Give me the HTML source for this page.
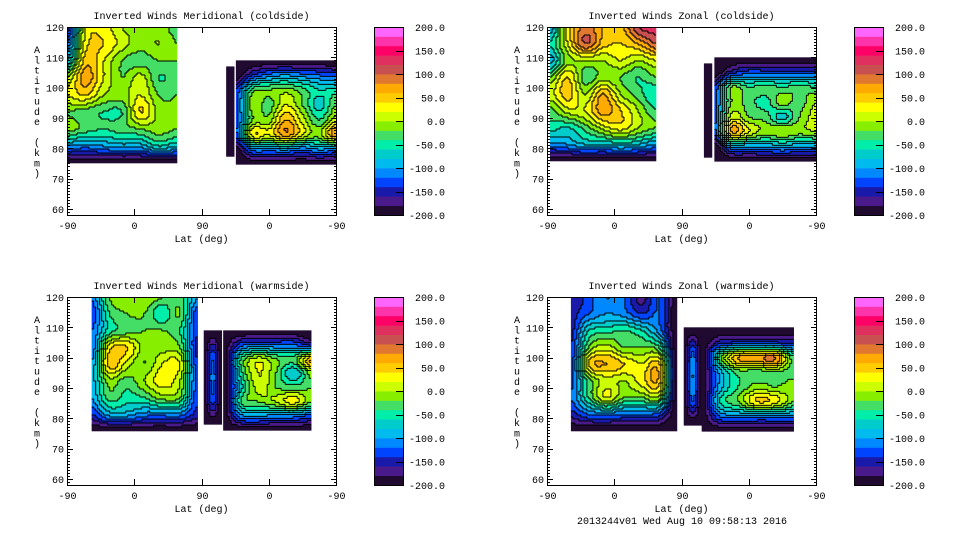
<!DOCTYPE html>
<html><head><meta charset="utf-8"><style>
body{margin:0;background:#fff}
svg{display:block}
text{font-family:"Liberation Mono",monospace;font-size:10px;fill:#000}
</style></head><body>
<svg id="s" width="960" height="540" viewBox="0 0 960 540"></svg>
<script>
const bandColors=["#200a30","#4a1a8a","#1a1aaa","#0044ff","#0088ff","#00bbee","#00cccc","#00eeaa","#44dd66","#88ee00","#ccff00","#ffff00","#ffcc00","#ffaa00","#e07830","#c85050","#e03060","#ff0066","#ff33aa","#ff66ff"];
const cbTicks=[200,150,100,50,0,-50,-100,-150,-200];
const altTicks=[60,70,80,90,100,110,120];
const latTickLabels=["-90","0","90","0","-90"];
const tlA=[[-150,20,30,0,-10,-10,-30],[-120,30,40,10,-10,0,-20],[-80,50,20,-20,-30,-20,-20],[0,70,20,-20,10,-40,-30],[20,40,0,-10,20,-20,-20],[-20,-30,-40,-40,40,-10,-20],[-10,-30,-40,-30,-20,-10,-20],[-100,-110,-100,-90,-90,-60,-80],[-200,-200,-200,-200,-200,-200,-200]];
const tlE=[[-200,-200,-200],[-200,-195,-200],[-200,-190,-200],[-200,-195,-200],[-200,-200,-200]];
const tlB=[[-200,-200,-200,-200,-200,-200,-200],[-200,-140,-110,-100,-110,-120,-130],[-140,-30,-20,-10,-30,-60,-50],[-130,-10,-30,20,-20,-70,-20],[-130,-20,-10,60,10,-40,10],[-130,30,20,70,20,-10,80],[-200,-110,-110,-100,-120,-100,-110],[-200,-200,-200,-200,-200,-200,-200]];
const trA=[[-100,30,90,60,50,120,130],[-60,20,100,50,40,60,100],[-90,-10,0,0,20,0,20],[-20,40,-30,-10,-20,-40,-20],[10,50,0,60,0,-30,-60],[-30,10,20,70,40,0,-40],[-50,-60,-30,10,30,0,-20],[-110,-100,-80,-80,-70,-80,-100],[-200,-200,-200,-200,-200,-200,-200]];
const trE=[[-200,-200,-200],[-200,-195,-200],[-200,-190,-200],[-200,-195,-200],[-200,-200,-200]];
const trB=[[-200,-200,-200,-200,-200,-200,-200],[-200,-150,-130,-130,-130,-130,-130],[-140,-20,-40,-30,-40,-30,-40],[-130,-20,-30,-50,-10,-30,0],[-130,10,-20,-30,-70,-20,10],[-130,60,20,-10,0,-10,0],[-200,-100,-100,-100,-90,-100,-100],[-200,-200,-200,-200,-200,-200,-200]];
const blA=[[-120,-20,-10,0,-20,-30,-100],[-140,-40,-20,-20,-60,-20,-140],[-120,-50,-30,-20,-20,-40,-140],[-120,30,40,-10,-10,-20,-150],[-100,50,10,-20,20,20,-140],[-90,-10,-30,0,30,0,-130],[-100,-30,-50,-40,-10,-20,-140],[-140,-90,-90,-110,-110,-110,-150],[-200,-200,-200,-200,-200,-200,-200]];
const blB1=[[-200,-200,-200],[-200,-130,-200],[-200,-110,-200],[-200,-130,-200],[-200,-200,-200]];
const blB2=[[-200,-200,-200,-200,-200,-200],[-200,-130,-120,-120,-120,-150],[-200,-40,10,-20,-30,60],[-200,-50,20,-20,-80,-10],[-200,-70,10,-20,-30,-20],[-200,-40,-20,0,30,-20],[-200,-110,-100,-110,-110,-130],[-200,-200,-200,-200,-200,-200]];
const brA=[[-160,-130,-100,-120,-170,-120,-200],[-150,-120,-100,-110,-140,-120,-200],[-150,-60,-50,-40,-60,-110,-200],[-140,-20,10,-20,-20,-40,-200],[-140,40,60,40,20,40,-200],[-130,-30,10,0,30,50,-200],[-120,-40,20,-20,-20,-10,-200],[-150,-120,-110,-120,-120,-130,-200],[-200,-200,-200,-200,-200,-200,-200]];
const brB1=[[-200,-200,-200],[-200,-120,-200],[-200,-100,-200],[-200,-120,-200],[-200,-200,-200]];
const brB2=[[-200,-200,-200,-200,-200,-200],[-200,-150,-140,-140,-140,-150],[-200,-30,60,70,80,-40],[-200,-90,-30,-30,-20,-30],[-200,-90,-40,-10,-20,-10],[-200,-60,-20,40,30,-20],[-200,-120,-110,-110,-110,-110],[-200,-200,-200,-200,-200,-200]];

const NS="http://www.w3.org/2000/svg";
const svg=document.getElementById('s');
const W=269,H=188,AMAX=120,AMIN=58;
function mk(tag,attrs,parent){const e=document.createElementNS(NS,tag);for(const k in attrs)e.setAttribute(k,attrs[k]);(parent||svg).appendChild(e);return e;}
const panels=[
 {name:"meridional-coldside",title:"Inverted Winds Meridional (coldside)",left:67,top:27,regions:[{x:[0,148],alt:[120,75],v:tlA},{x:[213,225],alt:[107,77],v:tlE},{x:[226,360],alt:[109,75],v:tlB}]},
 {name:"zonal-coldside",title:"Inverted Winds Zonal (coldside)",left:547,top:27,regions:[{x:[4,147],alt:[120,76],v:trA},{x:[210,221],alt:[108,77],v:trE},{x:[224,360],alt:[110,76],v:trB}]},
 {name:"meridional-warmside",title:"Inverted Winds Meridional (warmside)",left:67,top:297,regions:[{x:[33,174],alt:[120,76],v:blA},{x:[183,207],alt:[109,78],v:blB1},{x:[209,328],alt:[109,76],v:blB2}]},
 {name:"zonal-warmside",title:"Inverted Winds Zonal (warmside)",left:547,top:297,regions:[{x:[32,173],alt:[120,76],v:brA},{x:[183,206],alt:[110,78],v:brB1},{x:[207,329],alt:[110,76],v:brB2}]}
];
function band(v){return Math.max(0,Math.min(19,Math.floor((v+200)/20)));}
function cr(p0,p1,p2,p3,t){return 0.5*((2*p1)+(-p0+p2)*t+(2*p0-5*p1+4*p2-p3)*t*t+(-p0+3*p1-3*p2+p3)*t*t*t);}
function sample(M,fy,fx){const nr=M.length,nc=M[0].length;
 const r1=Math.min(nr-2,Math.floor(fy)),c1=Math.min(nc-2,Math.floor(fx));const ty=fy-r1,tx=fx-c1;
 const g=(r,c)=>M[Math.max(0,Math.min(nr-1,r))][Math.max(0,Math.min(nc-1,c))];
 const rowv=[];for(let k=-1;k<=2;k++){rowv.push(cr(g(r1+k,c1-1),g(r1+k,c1),g(r1+k,c1+1),g(r1+k,c1+2),tx));}
 return cr(rowv[0],rowv[1],rowv[2],rowv[3],ty);}
function drawRegion(g,P,R,ri){
 const xs=x=>P.left+x/360*W, ys=a=>P.top+(AMAX-a)/(AMAX-AMIN)*H;
 const x0=xs(R.x[0]),x1=xs(R.x[1]),y0=ys(R.alt[0]),y1=ys(R.alt[1]);
 const cs=2,nr=R.v.length,nc=R.v[0].length;
 const cols=Math.round((x1-x0)/cs),rows=Math.round((y1-y0)/cs);
 const B=[];
 for(let i=0;i<rows;i++){const row=[];const fy=(i+0.5)/rows*(nr-1);
  for(let j=0;j<cols;j++){const fx=(j+0.5)/cols*(nc-1);row.push(band(sample(R.v,fy,fx)));}
  B.push(row);}
 const rg=mk('g',{},g);
 
 
 for(let i=0;i<rows;i++){let j=0;while(j<cols){let k=j;while(k<cols&&B[i][k]===B[i][j])k++;
  const r=mk('rect',{x:x0+j*cs,y:y0+i*cs,width:(k-j)*cs+0.3,height:cs+0.3,fill:bandColors[B[i][j]]},rg);
  
  
  j=k;}}
 for(let i=0;i<rows;i++){for(let j=0;j<cols-1;j++){if(B[i][j]!==B[i][j+1]){const l=mk('rect',{x:x0+(j+1)*cs-0.5,y:y0+i*cs,width:1,height:cs,fill:"#000"},rg);
  
  }}}
 for(let i=0;i<rows-1;i++){let j=0;while(j<cols){if(B[i][j]!==B[i+1][j]){let k=j;while(k<cols&&B[i][k]!==B[i+1][k])k++;
  const l=mk('rect',{x:x0+j*cs,y:y0+(i+1)*cs-0.5,width:(k-j)*cs,height:1,fill:"#000"},rg);
  
  
  j=k;}else j++;}}
}
panels.forEach(P=>{
 const g=mk('g',{});
 
 
 P.regions.forEach((R,ri)=>drawRegion(g,P,R,ri));
 const fr=mk('rect',{x:P.left+0.5,y:P.top+0.5,width:W,height:H,fill:"none",stroke:"#000","stroke-width":1},g);
 
 
 const t=mk('text',{x:P.left+W/2,y:P.top-8,"text-anchor":"middle"},g);t.textContent=P.title;
 
 
 for(let a=59;a<=120;a++){const y=Math.round(P.top+(AMAX-a)/(AMAX-AMIN)*H)+0.5;const len=a%10===0?6:3;
  mk('line',{x1:P.left,x2:P.left+len,y1:y,y2:y,stroke:"#000"},g);
  mk('line',{x1:P.left+W+1,x2:P.left+W+1-len,y1:y,y2:y,stroke:"#000"},g);}
 altTicks.forEach(a=>{const y=P.top+(AMAX-a)/(AMAX-AMIN)*H;const tl=mk('text',{x:P.left-3,y:y+4,"text-anchor":"end"},g);tl.textContent=a;
  
  });
 latTickLabels.forEach((lb,i)=>{const x=Math.round(P.left+i*W/4)+0.5;
  mk('line',{x1:x,x2:x,y1:P.top+H,y2:P.top+H-6,stroke:"#000"},g);
  mk('line',{x1:x,x2:x,y1:P.top,y2:P.top+6,stroke:"#000"},g);
  const tl=mk('text',{x:x,y:P.top+H+14,"text-anchor":"middle"},g);tl.textContent=lb;
  
  });
 const xt=mk('text',{x:P.left+W/2,y:P.top+H+27,"text-anchor":"middle"},g);xt.textContent="Lat (deg)";
 
 
 const yg=mk('g',{},g);
 
 
 "Altitude (km)".split('').forEach((c,i)=>{const tc=mk('text',{x:P.left-30,y:P.top+26+i*10.3,"text-anchor":"middle","font-size":"11px"},yg);tc.textContent=c;});
 const cx=P.left+W+38,cw=29;
 const cb=mk('g',{},g);
 
 
 bandColors.forEach((c,i)=>{const bh=H/bandColors.length;const r=mk('rect',{x:cx,y:P.top+H-(i+1)*bh,width:cw,height:bh+0.4,fill:c},cb);
  
  });
 mk('rect',{x:cx+0.5,y:P.top+0.5,width:cw,height:H,fill:"none",stroke:"#000"},cb);
 cbTicks.forEach(v=>{const y=P.top+(200-v)/400*H;
  if(v!==200&&v!==-200)mk('line',{x1:cx+cw,x2:cx+cw-7,y1:Math.round(y)+0.5,y2:Math.round(y)+0.5,stroke:"#000"},cb);
  const tl=mk('text',{x:cx+71,y:y+4,"text-anchor":"end","font-size":"11px"},cb);tl.textContent=v.toFixed(1);
  
  });
});
const ft=mk('text',{x:682,y:524,"text-anchor":"middle"});ft.textContent="2013244v01 Wed Aug 10 09:58:13 2016";


</script>
</body></html>
